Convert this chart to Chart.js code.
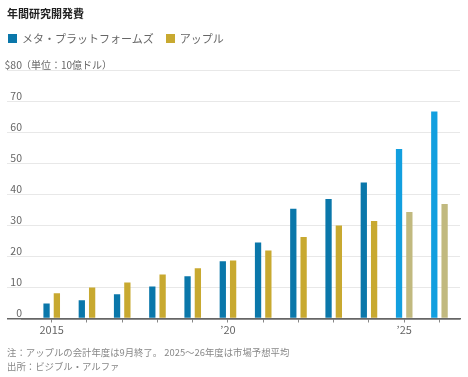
<!DOCTYPE html>
<html lang="ja">
<head>
<meta charset="utf-8">
<script src="https://cdn.jsdelivr.net/npm/chart.js@4/dist/chart.umd.min.js"></script>
<style>
  html, body { margin: 0; padding: 0; background: #fff; }
  body { width: 468px; height: 377px; position: relative; overflow: hidden;
    font-family: 'Noto Sans CJK JP', 'Noto Sans', sans-serif; }
  #wrap { position: absolute; left: 0; top: 0; width: 468px; height: 377px; }
  .ttl { position: absolute; left: 7px; top: 5px; font-size: 11px; font-weight: 700; color: #222; line-height: 16px; }
  .leg { position: absolute; left: 8px; top: 30px; font-size: 11px; color: #666; line-height: 16px; display: flex; align-items: center; }
  .leg i { display: inline-block; width: 9px; height: 9px; margin-right: 5px; }
  .leg span { margin-right: 12px; }
  .note { position: absolute; left: 7px; font-size: 9.4px; color: #888; line-height: 14px; white-space: nowrap; }
</style>
</head>
<body>
<div id="wrap"><canvas id="c" width="468" height="377"></canvas></div>
<div class="ttl">年間研究開発費</div>
<div class="leg"><i style="background:#0a77aa"></i><span>メタ・プラットフォームズ</span><i style="background:#c8a930"></i><span>アップル</span></div>
<div class="note" style="top:345px">注：アップルの会計年度は9月終了。 2025～26年度は市場予想平均</div>
<div class="note" style="top:359px">出所：ビジブル・アルファ</div>
<script>
const years = [2015, 2016, 2017, 2018, 2019, 2020, 2021, 2022, 2023, 2024, 2025, 2026];
const metaVals = [4.8, 5.9, 7.8, 10.3, 13.6, 18.4, 24.5, 35.3, 38.5, 43.8, 54.6, 66.6];
const appleVals = [8.1, 10.0, 11.6, 14.2, 16.2, 18.7, 21.9, 26.2, 29.9, 31.4, 34.3, 36.9];
const estimated = [false, false, false, false, false, false, false, false, false, false, true, true];
const yTicks = [0, 10, 20, 30, 40, 50, 60, 70, 80];
const xLabels = { 2015: '2015', 2020: '’20', 2025: '’25' };

const META = '#0a77aa', META_EST = '#129fdf';
const APPLE = '#c8a930', APPLE_EST = '#c1b97f';
const LBL = '#666';

const unitLabel = {
  id: 'unitLabel',
  afterDraw(chart) {
    const { ctx, scales: { y } } = chart;
    ctx.save();
    ctx.font = "10px 'Noto Sans CJK JP'";
    ctx.fillStyle = LBL;
    ctx.textAlign = 'left';
    ctx.textBaseline = 'middle';
    ctx.fillText('（単位：10億ドル）', 21, y.getPixelForValue(80) - 5);
    ctx.restore();
  }
};

new Chart(document.getElementById('c'), {
  type: 'bar',
  data: {
    datasets: [
      { label: 'メタ・プラットフォームズ', data: years.map((x, i) => ({ x, y: metaVals[i] })),
        backgroundColor: estimated.map(e => e ? META_EST : META) },
      { label: 'アップル', data: years.map((x, i) => ({ x, y: appleVals[i] })),
        backgroundColor: estimated.map(e => e ? APPLE_EST : APPLE) },
    ],
  },
  options: {
    responsive: false,
    animation: false,
    layout: { padding: { left: 0, right: 8, top: 70, bottom: 28.5 } },
    datasets: { bar: { categoryPercentage: 0.585, barPercentage: 0.61 } },
    plugins: { legend: { display: false }, tooltip: { enabled: false } },
    scales: {
      x: {
        type: 'linear', min: 2014.157, max: 2026.583, offset: false,
        afterBuildTicks: s => { s.ticks = years.map(v => ({ value: v })); },
        afterFit: s => { s.height = 30; },
        border: { color: '#666', width: 1.5 },
        grid: { offset: false, drawOnChartArea: false, drawTicks: true, tickLength: 4, tickColor: '#888', tickWidth: 1 },
        ticks: { autoSkip: false, maxRotation: 0, padding: 1, color: LBL,
          font: { family: 'Noto Sans CJK JP', size: 11 },
          callback: v => xLabels[v] || '' },
      },
      y: {
        min: 0, max: 80,
        afterBuildTicks: s => { s.ticks = yTicks.map(v => ({ value: v })); },
        afterFit: s => { s.width = 22; },
        border: { display: false },
        grid: {
          color: c => c.tick && c.tick.value === 0 ? '#666' : '#e8e8e8',
          lineWidth: c => c.tick && c.tick.value === 0 ? 1.5 : 1,
          tickColor: c => c.tick && c.tick.value === 0 ? '#666' : '#e8e8e8',
          tickWidth: c => c.tick && c.tick.value === 0 ? 1.5 : 1,
          drawTicks: true, tickLength: 15,
        },
        ticks: { padding: -15, labelOffset: -5, color: LBL,
          font: { family: 'Noto Sans CJK JP', size: 10.5 },
          callback: v => v === 80 ? '$80' : String(v) },
      },
    },
  },
  plugins: [unitLabel],
});
</script>
</body>
</html>
